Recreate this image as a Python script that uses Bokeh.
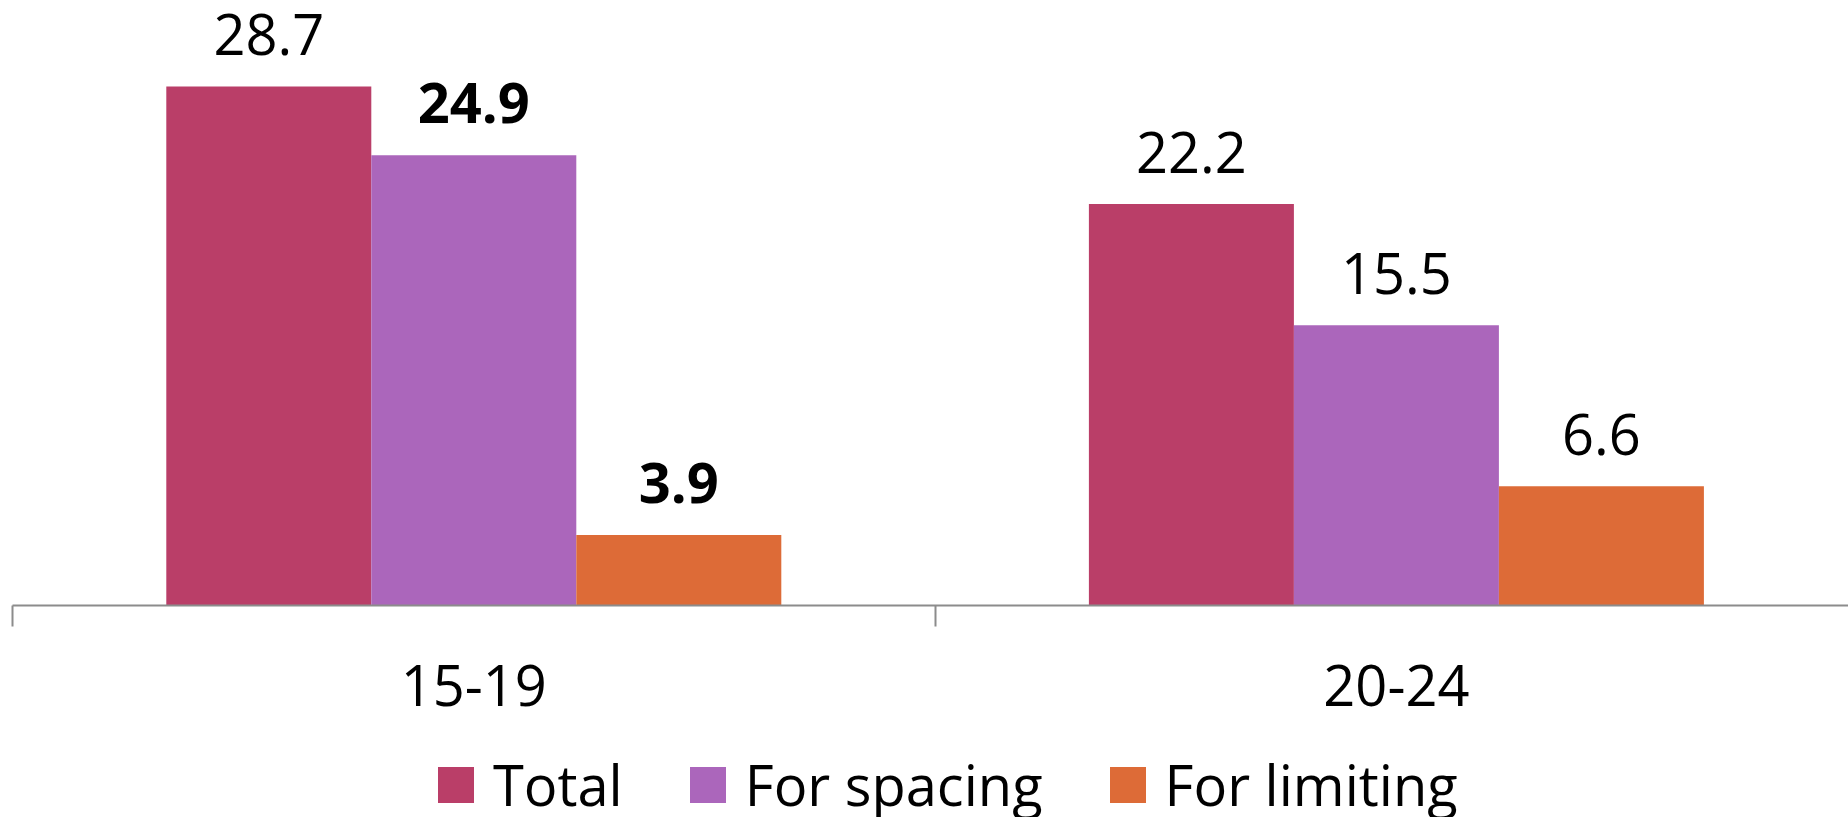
from bokeh.plotting import figure
from bokeh.models import (Range1d, FixedTicker, LinearAxis, Legend, LegendItem,
                          ColumnDataSource)
from bokeh.layouts import column
from bokeh.core.properties import value
from bokeh.embed import file_html
from bokeh.resources import INLINE

# ---- data ----
age_groups = ["15-19", "20-24"]
series_names = ["Total", "For spacing", "For limiting"]
total = [28.7, 22.2]
for_spacing = [24.9, 15.5]
for_limiting = [3.9, 6.6]
bold_labels = {("For spacing", 0), ("For limiting", 0)}
colors = ["#BA3E68", "#AB66BB", "#DD6B37"]

FONT = "Open Sans"
BAR_W = 0.2222

# ---------- main chart ----------
p = figure(width=1848, height=751, output_backend="svg", toolbar_location=None,
           x_range=Range1d(0, 1836 / 922.6), y_range=Range1d(0, 605 / 18.08),
           x_axis_location=None, y_axis_location=None,
           min_border_left=12, min_border_right=0, min_border_top=0,
           min_border_bottom=146)
p.outline_line_color = None
p.grid.visible = False
p.background_fill_color = "white"
p.border_fill_color = "white"

# ---------- legend strip (bars here lie outside its visible range) ----------
lg = figure(width=1848, height=66, output_backend="svg", toolbar_location=None,
            x_range=Range1d(0, 1836 / 922.6), y_range=Range1d(1000, 1001),
            x_axis_location=None, y_axis_location=None,
            min_border_left=12, min_border_right=0, min_border_top=0,
            min_border_bottom=0)
lg.outline_line_color = None
lg.grid.visible = False
lg.background_fill_color = "white"
lg.border_fill_color = "white"

items = []
for k, (name, vals) in enumerate(zip(series_names, [total, for_spacing, for_limiting])):
    xs = [i + 0.5 + (k - 1) * BAR_W for i in range(len(age_groups))]
    src = ColumnDataSource(dict(
        x=xs, top=vals,
        txt=[f"{v:.1f}" for v in vals],
        style=["bold" if (name, i) in bold_labels else "normal" for i in range(len(vals))],
    ))
    p.vbar(x="x", top="top", bottom=0, width=BAR_W, source=src,
           fill_color=colors[k], line_color=None)
    p.text(x="x", y="top", text="txt", source=src, text_align="center",
           text_baseline="alphabetic", y_offset=-52, text_font=value(FONT),
           text_font_size="56px", text_font_style="style", text_color="black")
    r = lg.vbar(x="x", top="top", bottom=0, width=BAR_W, source=src,
                fill_color=colors[k], line_color=None)
    items.append(LegendItem(label=name, renderers=[r]))

ax = LinearAxis(ticker=FixedTicker(ticks=[0.5, 1.5], minor_ticks=[0, 1, 2]))
ax.major_label_overrides = {0.5: age_groups[0], 1.5: age_groups[1]}
ax.axis_line_color = "#8C8C8C"
ax.axis_line_width = 2
ax.major_tick_line_color = None
ax.major_tick_out = 0
ax.major_tick_in = 0
ax.minor_tick_line_color = "#8C8C8C"
ax.minor_tick_line_width = 2
ax.minor_tick_out = 21
ax.minor_tick_in = 0
ax.major_label_text_font = FONT
ax.major_label_text_font_size = "56px"
ax.major_label_text_color = "black"
ax.major_label_standoff = 38
p.add_layout(ax, "below")

legend = Legend(items=items, orientation="horizontal", location=(421, -17))
legend.label_text_font = FONT
legend.label_text_font_size = "56px"
legend.label_text_color = "black"
legend.label_height = 100
legend.glyph_width = 45
legend.glyph_height = 45
legend.label_standoff = 15
legend.spacing = 62
legend.padding = 0
legend.margin = 0
legend.border_line_color = None
legend.background_fill_alpha = 0
lg.add_layout(legend)

layout = column(p, lg, spacing=0)
open("out.html", "w").write(file_html(layout, INLINE))
